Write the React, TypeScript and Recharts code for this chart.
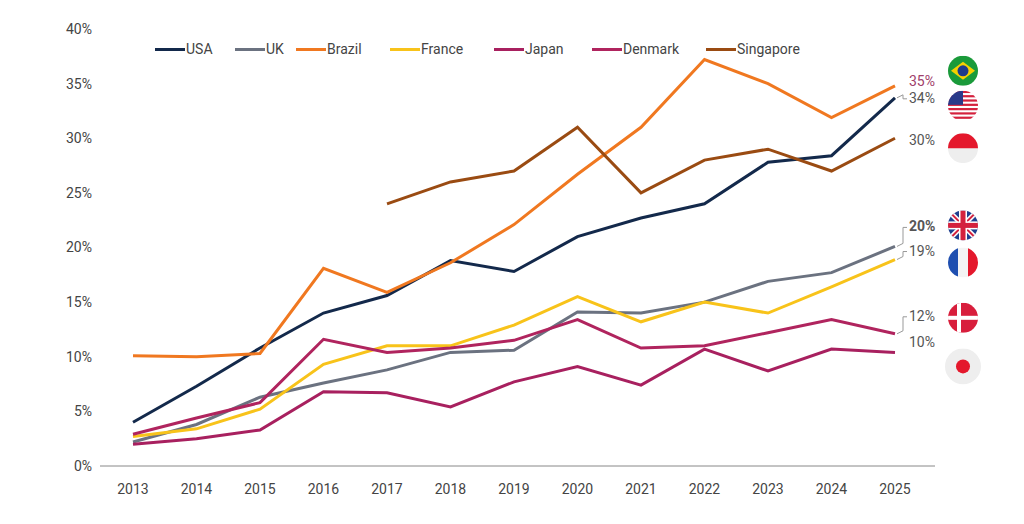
import React from 'react';
import { LineChart, Line, XAxis, YAxis, LabelList } from 'recharts';

const years = ['2013', '2014', '2015', '2016', '2017', '2018', '2019', '2020', '2021', '2022', '2023', '2024', '2025'];
const usa = [4.0, 7.3, 10.8, 14.0, 15.6, 18.8, 17.8, 21.0, 22.7, 24.0, 27.8, 28.4, 33.7];
const uk = [2.2, 3.8, 6.3, 7.6, 8.8, 10.4, 10.6, 14.1, 14.0, 15.0, 16.9, 17.7, 20.1];
const brazil = [10.1, 10.0, 10.3, 18.1, 15.9, 18.6, 22.1, 26.7, 31.0, 37.2, 35.0, 31.9, 34.8];
const france = [2.7, 3.4, 5.2, 9.3, 11.0, 11.0, 12.9, 15.5, 13.2, 15.0, 14.0, 16.4, 18.9];
const japan = [2.0, 2.5, 3.3, 6.8, 6.7, 5.4, 7.7, 9.1, 7.4, 10.7, 8.7, 10.7, 10.4];
const denmark = [2.9, 4.4, 5.8, 11.6, 10.4, 10.8, 11.5, 13.4, 10.8, 11.0, 12.2, 13.4, 12.1];
const singapore = [null, null, null, null, 24.0, 26.0, 27.0, 31.0, 25.0, 28.0, 29.0, 27.0, 30.0];
const yTicks = [0, 5, 10, 15, 20, 25, 30, 35, 40];

const data = years.map((y, i) => ({
  year: y, USA: usa[i], UK: uk[i], Brazil: brazil[i], France: france[i],
  Japan: japan[i], Denmark: denmark[i], Singapore: singapore[i],
}));

const series = [
  { key: 'USA', color: '#13294b', text: '34%', ldy: 5, fdy: 8, lead: true, flag: 'us' },
  { key: 'UK', color: '#6b7280', text: '20%', ldy: -15, fdy: -21, lead: true, bold: true, flag: 'uk' },
  { key: 'Brazil', color: '#f07820', text: '35%', ldy: 0, fdy: -15, color2: '#a0406a', flag: 'br' },
  { key: 'France', color: '#f8c31a', text: '19%', ldy: -4, fdy: 3, lead: true, flag: 'fr' },
  { key: 'Japan', color: '#a8205f', text: '10%', ldy: -5, fdy: 14, flag: 'jp' },
  { key: 'Denmark', color: '#b0245e', text: '12%', ldy: -13, fdy: -16, lead: true, flag: 'dk' },
  { key: 'Singapore', color: '#9a4b12', text: '30%', ldy: 7, fdy: 10, flag: 'sg' },
];

const Flag = ({ cx, cy, kind }: { cx: number; cy: number; kind: string }) => {
  const r = 15;
  const id = `clip-${kind}`;
  let body: React.ReactNode = null;
  if (kind === 'br') body = (<>
    <rect x={cx - r} y={cy - r} width={2 * r} height={2 * r} fill="#1a9a3a" />
    <polygon points={`${cx - 12},${cy} ${cx},${cy - 9} ${cx + 12},${cy} ${cx},${cy + 9}`} fill="#f5d000" />
    <circle cx={cx} cy={cy} r={5.5} fill="#1c3a8c" />
  </>);
  if (kind === 'us') body = (<>
    {[0, 1, 2, 3, 4, 5, 6].map(i => <rect key={i} x={cx - r} y={cy - r + i * 4.3} width={2 * r} height={2.2} fill="#d4213d" />)}
    <rect x={cx - r} y={cy - r} width={15} height={14} fill="#2a3a8a" />
  </>);
  if (kind === 'sg') body = (<>
    <rect x={cx - r} y={cy - r} width={2 * r} height={2 * r} fill="#eeeeee" />
    <rect x={cx - r} y={cy - r} width={2 * r} height={r} fill="#e4182c" />
  </>);
  if (kind === 'uk') body = (<>
    <rect x={cx - r} y={cy - r} width={2 * r} height={2 * r} fill="#1f3f8f" />
    <line x1={cx - r} y1={cy - r} x2={cx + r} y2={cy + r} stroke="#fff" strokeWidth={5} />
    <line x1={cx + r} y1={cy - r} x2={cx - r} y2={cy + r} stroke="#fff" strokeWidth={5} />
    <line x1={cx - r} y1={cy - r} x2={cx + r} y2={cy + r} stroke="#d4213d" strokeWidth={2} />
    <line x1={cx + r} y1={cy - r} x2={cx - r} y2={cy + r} stroke="#d4213d" strokeWidth={2} />
    <rect x={cx - r} y={cy - 4} width={2 * r} height={8} fill="#fff" />
    <rect x={cx - 4} y={cy - r} width={8} height={2 * r} fill="#fff" />
    <rect x={cx - r} y={cy - 2.5} width={2 * r} height={5} fill="#d4213d" />
    <rect x={cx - 2.5} y={cy - r} width={5} height={2 * r} fill="#d4213d" />
  </>);
  if (kind === 'fr') body = (<>
    <rect x={cx - r} y={cy - r} width={10} height={2 * r} fill="#1f4fb0" />
    <rect x={cx - 5} y={cy - r} width={10} height={2 * r} fill="#f4f4f4" />
    <rect x={cx + 5} y={cy - r} width={10} height={2 * r} fill="#e4182c" />
  </>);
  if (kind === 'dk') body = (<>
    <rect x={cx - r} y={cy - r} width={2 * r} height={2 * r} fill="#d81e3c" />
    <rect x={cx - r} y={cy - 2} width={2 * r} height={4} fill="#fff" />
    <rect x={cx - 6} y={cy - r} width={4} height={2 * r} fill="#fff" />
  </>);
  if (kind === 'jp') body = (<>
    <rect x={cx - r - 3} y={cy - r - 3} width={2 * r + 6} height={2 * r + 6} fill="#eeeeee" />
    <circle cx={cx} cy={cy} r={7} fill="#e4182c" />
  </>);
  const rr = kind === 'jp' ? r + 3 : r;
  return (
    <g>
      <clipPath id={id}><circle cx={cx} cy={cy} r={rr} /></clipPath>
      <g clipPath={`url(#${id})`}>{body}</g>
    </g>
  );
};

const endLabel = (s: typeof series[number]) => (props: any) => {
  const { x, y, index } = props;
  if (index !== years.length - 1) return null;
  const lx = x + 14;
  const ly = y + s.ldy;
  return (
    <g>
      {s.lead && (
        <polyline points={`${x + 2},${y} ${x + 8},${y - 3} ${x + 8},${ly - 4} ${x + 12},${ly - 4}`}
          fill="none" stroke="#999" strokeWidth={1} />
      )}
      <text x={lx} y={ly} fontSize={14} fill={s.color2 || '#555'} fontWeight={s.bold ? 700 : 400}>{s.text}</text>
      <Flag cx={963} cy={y + s.fdy} kind={s.flag} />
    </g>
  );
};

const legendX = [155, 235, 296, 390, 494, 592, 706];

export default function App() {
  return (
    <div style={{ position: 'absolute', left: 0, top: 0, width: 1024, height: 524, background: '#fff', fontFamily: 'Roboto, "Noto Sans", sans-serif' }}>
      <LineChart width={1024} height={524} data={data} margin={{ top: 29, right: 89, left: 40, bottom: 28 }}>
        <XAxis dataKey="year" padding={{ left: 33, right: 40 }} stroke="#888" tickLine={false}
          tick={{ fill: '#444', fontSize: 14 }} height={30} tickMargin={12} />
        <YAxis domain={[0, 40]} ticks={yTicks} axisLine={false} tickLine={false} width={60}
          tickFormatter={(v: number) => `${v}%`} tick={{ fill: '#444', fontSize: 14 }} />
        {series.map(s => (
          <Line key={s.key} dataKey={s.key} stroke={s.color} strokeWidth={3} dot={false} isAnimationActive={false}>
            <LabelList dataKey={s.key} content={endLabel(s)} />
          </Line>
        ))}
      </LineChart>
      {series.map((s, i) => (
        <div key={s.key} style={{ position: 'absolute', left: legendX[i], top: 41, display: 'flex', alignItems: 'center', fontSize: 14, color: '#444' }}>
          <span style={{ display: 'inline-block', width: 30, height: 3, background: s.color, marginRight: 1 }} />
          {s.key}
        </div>
      ))}
    </div>
  );
}
